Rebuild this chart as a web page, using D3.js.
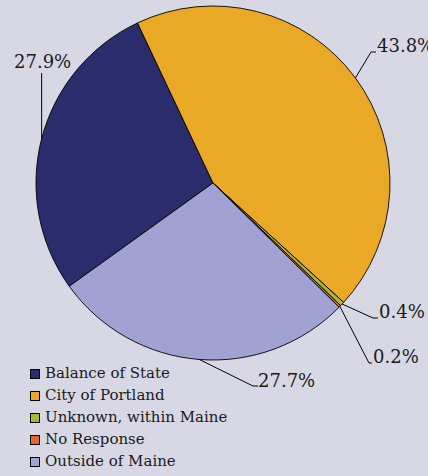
<!DOCTYPE html>
<html><head><meta charset="utf-8">
<script src="https://cdn.jsdelivr.net/npm/d3@7"></script>
<style>
html,body{margin:0;padding:0;background:#d8d8e4;}
svg{display:block;}
text{font-family:"DejaVu Serif",serif;}
</style></head>
<body>
<script>
const categories = ["Balance of State","City of Portland","Unknown, within Maine","No Response","Outside of Maine"];
const values = [27.9, 43.8, 0.4, 0.2, 27.7];
const colors = ["#2a2c6b","#e9a825","#a5b932","#e2692a","#a1a2d3"];

const W = 428, H = 476;
const cx = 213, cy = 183, R = 177;
const svg = d3.select("body").append("svg").attr("width", W).attr("height", H);
svg.append("rect").attr("width", W).attr("height", H).attr("fill", "#d8d8e4");

const start = 234.3 * Math.PI / 180;
const pie = d3.pie().sort(null).value(d => d.v).startAngle(start).endAngle(start + 2 * Math.PI);
const data = categories.map((c, i) => ({c, v: values[i], col: colors[i], i}));
const arcs = pie(data);
const arc = d3.arc().innerRadius(0).outerRadius(R);

const g = svg.append("g").attr("transform", `translate(${cx},${cy})`);
g.selectAll("path").data(arcs).join("path")
  .attr("d", arc).attr("fill", d => d.data.col)
  .attr("stroke", "#000").attr("stroke-width", 0.9).attr("stroke-linejoin", "round");

// label layout: elbow (null x = straight up from slice), leader end, text position
const labelLayout = [
  {elbow: [null, 73], end: [null, 73], tx: 14, ty: 68},
  {elbow: [371, 52], end: [376, 52], tx: 377, ty: 52},
  {elbow: [373, 318], end: [378, 318], tx: 379, ty: 318},
  {elbow: [369, 363], end: [372, 363], tx: 373, ty: 363},
  {elbow: [253, 386], end: [258, 386], tx: 258, ty: 387}
];
const fmt = v => v.toFixed(1) + "%";
arcs.forEach(a => {
  const mid = (a.startAngle + a.endAngle) / 2;
  const px = cx + R * Math.sin(mid), py = cy - R * Math.cos(mid);
  const L = labelLayout[a.data.i];
  const ex = L.elbow[0] == null ? px : L.elbow[0];
  const fx = L.end[0] == null ? px : L.end[0];
  svg.append("path")
    .attr("d", `M${px},${py}L${ex},${L.elbow[1]}L${fx},${L.end[1]}`)
    .attr("fill", "none").attr("stroke", "#000").attr("stroke-width", 1);
  svg.append("text").attr("x", L.tx).attr("y", L.ty)
    .attr("font-size", 18)
    .attr("fill", "#1a1a1a")
    .text(fmt(a.data.v));
});

const leg = svg.append("g");
categories.forEach((c, i) => {
  const y = 378 + i * 22;
  leg.append("rect").attr("x", 30.5).attr("y", y - 8.5).attr("width", 9).attr("height", 9)
    .attr("fill", colors[i]).attr("stroke", "#000").attr("stroke-width", 1);
  leg.append("text").attr("x", 45).attr("y", y)
    .attr("font-size", 15)
    .attr("fill", "#1a1a1a").text(c);
});
</script>
</body></html>
